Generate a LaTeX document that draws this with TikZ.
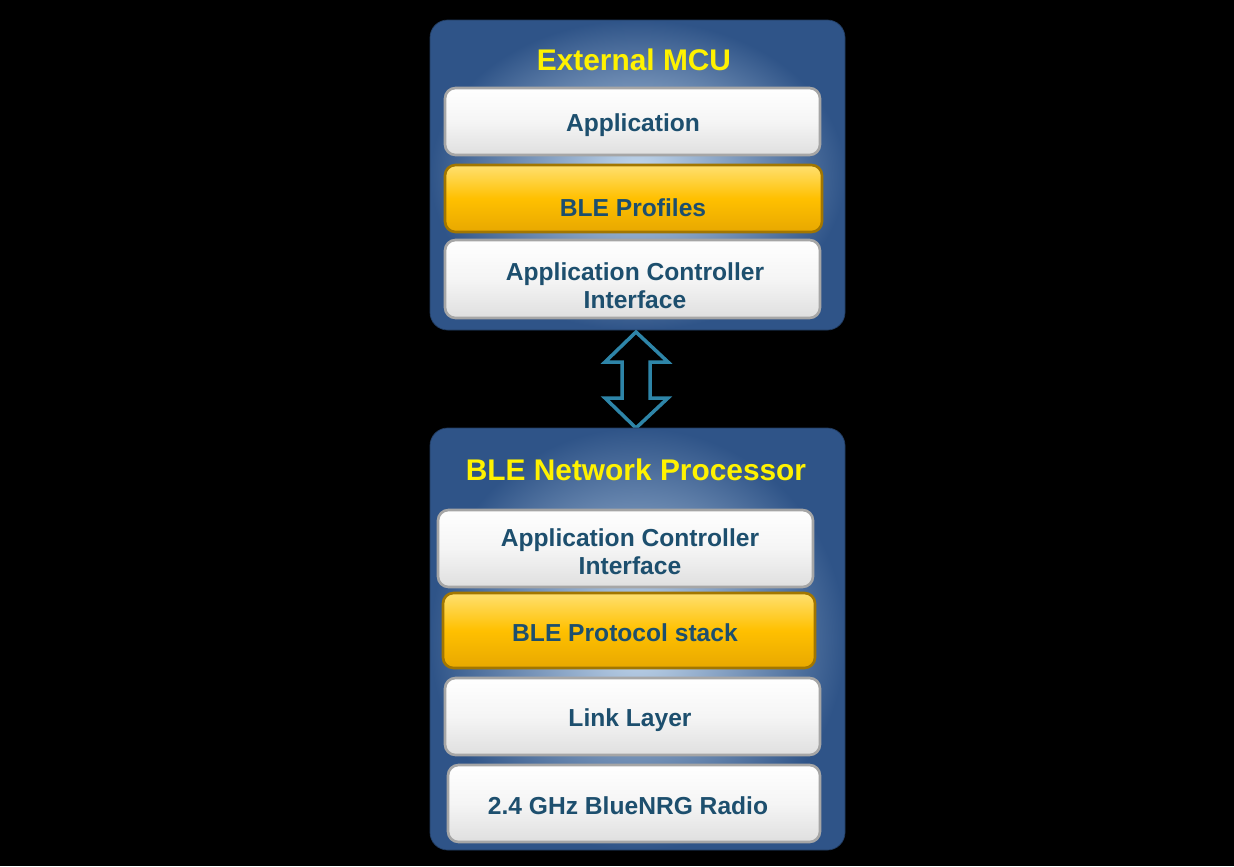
\documentclass[tikz,border=0pt]{standalone}
\usepackage{fontspec}
\setmainfont{Liberation Sans}
\definecolor{contout}{HTML}{2F5488}
\definecolor{contin}{HTML}{C8DCF0}
\definecolor{labc}{HTML}{1D4F6E}
\definecolor{arrc}{HTML}{2E85A8}
\definecolor{goldt}{HTML}{FFE070}
\definecolor{goldm}{HTML}{FFC000}
\definecolor{goldb}{HTML}{E8A800}
\begin{document}
\begin{tikzpicture}[x=0.02cm,y=-0.02cm,
  cont/.style={rounded corners=10pt,inner color=contin,outer color=contout,draw=contout!70!black},
  box/.style={rounded corners=6pt,draw=gray!70,line width=1.5pt,top color=white,bottom color=gray!25,middle color=gray!8},
  gold/.style={rounded corners=6pt,draw=goldb!70!black,line width=1.5pt,top color=goldt,bottom color=goldb,middle color=goldm},
  lab/.style={text=labc,font=\bfseries\fontsize{14}{16}\selectfont,align=center},
  ttl/.style={text=yellow,font=\bfseries\fontsize{17}{19}\selectfont}]
\fill[black] (0,0) rectangle (1234,866);
\useasboundingbox (0,0) rectangle (1234,866);
% top container
\path[cont] (430,20) rectangle (845,330);
\node[ttl] (t1) at (634,60) {External MCU};
\path[box] (445,88) rectangle (820,155);
\node[lab] (app) at (633,125) {Application};
\path[gold] (445,165) rectangle (822,232);
\node[lab] (prof) at (633,208) {BLE Profiles};
\path[box] (445,240) rectangle (820,318);
\node[lab] (aci1) at (635,286) {Application Controller\\Interface};
% arrow
\draw[arrc,line width=2pt,fill=black]
 (636,332) -- (668,362) -- (650,362) -- (650,398) -- (668,398) -- (636,428)
 -- (605,398) -- (622,398) -- (622,362) -- (605,362) -- cycle;
% bottom container
\path[cont] (430,428) rectangle (845,850);
\node[ttl] (t2) at (636,470) {BLE Network Processor};
\path[box] (438,510) rectangle (813,587);
\node[lab] (aci2) at (630,552) {Application Controller\\Interface};
\path[gold] (443,593) rectangle (815,668);
\node[lab] (stack) at (625,633) {BLE Protocol stack};
\path[box] (445,678) rectangle (820,755);
\node[lab] (ll) at (630,720) {Link Layer};
\path[box] (448,765) rectangle (820,842);
\node[lab] (radio) at (628,806) {2.4 GHz BlueNRG Radio};
\end{tikzpicture}
\end{document}
